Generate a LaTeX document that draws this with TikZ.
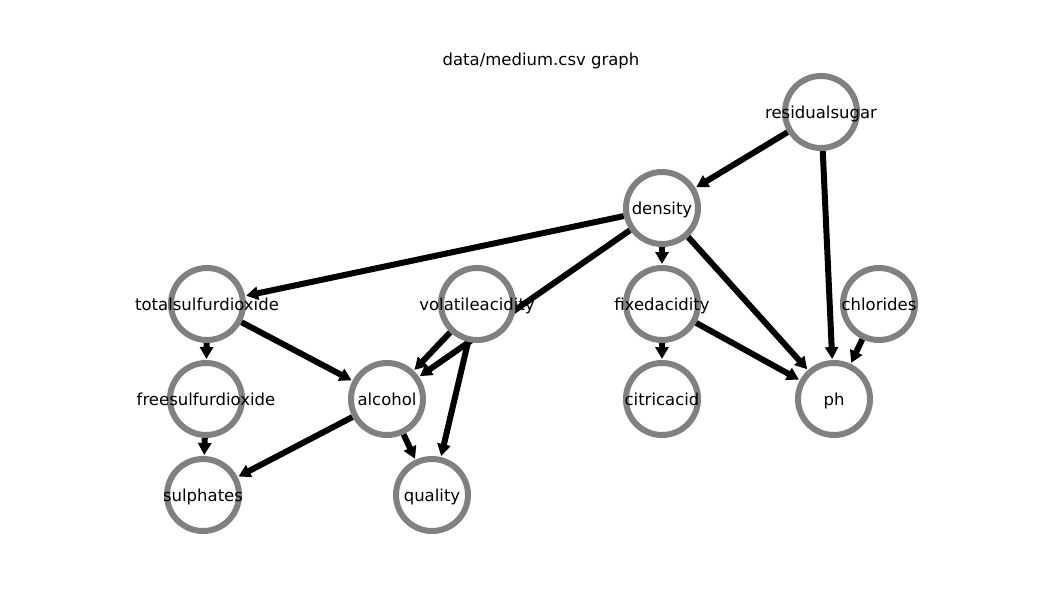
\documentclass[tikz,border=0pt]{standalone}
\usepackage{fontspec}
\setmainfont{DejaVu Sans}
\usetikzlibrary{arrows.meta,backgrounds}
\begin{document}
\begin{tikzpicture}[x=1pt,y=-1pt,
  vnode/.style={circle,draw=black!50,line width=6pt,fill=white,minimum size=72pt,inner sep=0pt},
  vtext/.style={font=\fontsize{16.5}{20}\selectfont,inner sep=0pt,text=black,anchor=base},
  vlabel/.style={vtext,yshift=-6.5pt},
  edge/.style={line width=6pt,black,-{Triangle[length=12pt,width=13pt]},shorten >=1pt}]
\useasboundingbox (0,0) rectangle (1056,602);
\node[vtext] (title) at (541,65) {data/medium.csv graph};
\node[vnode] (rs) at (821,112) {};
\node[vnode] (de) at (662,208) {};
\node[vnode] (ts) at (207,304) {};
\node[vnode] (va) at (477,304) {};
\node[vnode] (fa) at (662,304) {};
\node[vnode] (ch) at (879,304) {};
\node[vnode] (fs) at (206,399) {};
\node[vnode] (al) at (387,399) {};
\node[vnode] (ca) at (662,399) {};
\node[vnode] (ph) at (834,399) {};
\node[vnode] (su) at (203,495) {};
\node[vnode] (qu) at (432,495) {};
\begin{pgfonlayer}{background}
\draw[edge] (rs) -- (de);
\draw[edge] (rs) -- (ph);
\draw[edge] (de) -- (ts);
\draw[edge] (de) -- (al);
\draw[edge] (de) -- (fa);
\draw[edge] (de) -- (ph);
\draw[edge] (ts) -- (fs);
\draw[edge] (ts) -- (al);
\draw[edge] (va) -- (al);
\draw[edge] (va) -- (qu);
\draw[edge] (fa) -- (ca);
\draw[edge] (fa) -- (ph);
\draw[edge] (ch) -- (ph);
\draw[edge] (fs) -- (su);
\draw[edge] (al) -- (su);
\draw[edge] (al) -- (qu);
\end{pgfonlayer}
\node[vlabel] (lrs) at (rs) {residualsugar};
\node[vlabel] (lde) at (de) {density};
\node[vlabel] (lts) at (ts) {totalsulfurdioxide};
\node[vlabel] (lva) at (va) {volatileacidity};
\node[vlabel] (lfa) at (fa) {fixedacidity};
\node[vlabel] (lch) at (ch) {chlorides};
\node[vlabel] (lfs) at (fs) {freesulfurdioxide};
\node[vlabel] (lal) at (al) {alcohol};
\node[vlabel] (lca) at (ca) {citricacid};
\node[vlabel] (lph) at (ph) {ph};
\node[vlabel] (lsu) at (su) {sulphates};
\node[vlabel] (lqu) at (qu) {quality};
\end{tikzpicture}
\end{document}
